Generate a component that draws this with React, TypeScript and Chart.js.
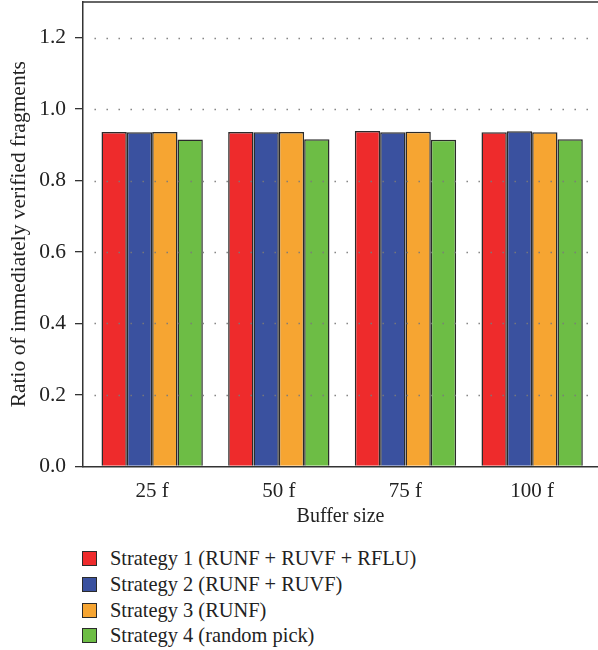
import React, { useEffect, useRef } from "react";
import { Chart, registerables } from "chart.js";

Chart.register(...registerables);

const categories = ["25 f", "50 f", "75 f", "100 f"];
const seriesNames = [
  "Strategy 1 (RUNF + RUVF + RFLU)",
  "Strategy 2 (RUNF + RUVF)",
  "Strategy 3 (RUNF)",
  "Strategy 4 (random pick)",
];
const strategy1 = [0.936, 0.936, 0.939, 0.935];
const strategy2 = [0.935, 0.935, 0.935, 0.938];
const strategy3 = [0.936, 0.936, 0.937, 0.935];
const strategy4 = [0.915, 0.916, 0.914, 0.916];
const seriesColors = ["#EE2B2C", "#3A519F", "#F6A532", "#6DBD45"];
const yTicks = [0, 0.2, 0.4, 0.6, 0.8, 1.0, 1.2];

const FONT = "'Liberation Serif', 'Times New Roman', serif";

const overlayPlugin = {
  id: "overlayGrid",
  afterDatasetsDraw(chart: any) {
    const { ctx, chartArea, scales } = chart;
    const { left, right, top } = chartArea;
    const y = scales.y;
    ctx.save();
    ctx.strokeStyle = "#7a7a7a";
    ctx.lineWidth = 1.4;
    ctx.setLineDash([1.4, 10.6]);
    for (const v of yTicks) {
      if (v === 0) continue;
      const py = Math.round(y.getPixelForValue(v)) + 0.5;
      ctx.beginPath();
      ctx.moveTo(left + 11.5, py);
      ctx.lineTo(right, py);
      ctx.stroke();
    }
    ctx.setLineDash([]);
    ctx.strokeStyle = "#333";
    ctx.lineWidth = 1.5;
    ctx.beginPath();
    ctx.moveTo(left, top);
    ctx.lineTo(right, top);
    ctx.stroke();
    ctx.restore();
  },
};

export default function App() {
  const ref = useRef<HTMLCanvasElement | null>(null);
  useEffect(() => {
    if (!ref.current) return;
    const all = [strategy1, strategy2, strategy3, strategy4];
    const chart = new Chart(ref.current, {
      type: "bar",
      data: {
        datasets: all.map((vals, i) => ({
          label: seriesNames[i],
          data: vals.map((v, j) => ({ x: j + 1, y: v })),
          backgroundColor: seriesColors[i],
          borderColor: "#2b2b2b",
          borderWidth: 1.5,
          categoryPercentage: 0.8,
          barPercentage: 1.0,
        })),
      },
      options: {
        animation: false,
        responsive: false,
        maintainAspectRatio: false,
        layout: { padding: { top: 2, right: 0, left: 0, bottom: 0 } },
        plugins: { legend: { display: false }, tooltip: { enabled: false } },
        scales: {
          x: {
            type: "linear",
            min: 0.454,
            max: 4.52,
            offset: false,
            afterBuildTicks: (axis: any) => {
              axis.ticks = categories.map((_, i) => ({ value: i + 1 }));
            },
            afterFit: (axis: any) => {
              axis.height = 540 - 466.3;
              axis.paddingLeft = 0;
              axis.paddingRight = 0;
            },
            ticks: {
              callback: (v: any) => categories[Number(v) - 1] ?? "",
              font: { family: FONT, size: 21 },
              color: "#222",
              padding: 13,
              maxRotation: 0,
              autoSkip: false,
            },
            grid: { display: false, drawOnChartArea: false, drawTicks: false, offset: false },
            border: { display: true, color: "#333", width: 1.5 },
            title: {
              display: true,
              text: "Buffer size",
              font: { family: FONT, size: 20 },
              color: "#222",
              padding: { top: 0, bottom: 11 },
            },
          },
          y: {
            min: 0,
            max: 1.3,
            afterBuildTicks: (axis: any) => {
              axis.ticks = yTicks.map((v) => ({ value: v }));
            },
            afterFit: (axis: any) => {
              axis.width = 83;
              axis.paddingTop = 0;
              axis.paddingBottom = 0;
            },
            ticks: {
              callback: (v: any) => Number(v).toFixed(1),
              font: { family: FONT, size: 21.5 },
              color: "#222",
              padding: 9,
            },
            grid: {
              display: true,
              drawOnChartArea: false,
              drawTicks: true,
              tickLength: 8,
              color: "#333",
              lineWidth: 1.3,
            },
            border: { display: true, color: "#333", width: 1.5 },
            title: {
              display: true,
              text: "Ratio of immediately verified fragments",
              font: { family: FONT, size: 21.5 },
              color: "#222",
              padding: { top: 6, bottom: 0 },
            },
          },
        },
      },
      plugins: [overlayPlugin],
    });
    return () => chart.destroy();
  }, []);

  return (
    <div
      style={{
        position: "absolute",
        left: 0,
        top: 0,
        width: 598,
        height: 650,
        overflow: "hidden",
        background: "#fff",
      }}
    >
      <canvas ref={ref} width={598} height={540} style={{ display: "block" }} />
      <div style={{ position: "absolute", left: 82, top: 546 }}>
        {seriesNames.map((name, i) => (
          <div
            key={name}
            style={{
              display: "flex",
              alignItems: "center",
              height: 25.7,
              fontFamily: FONT,
              fontSize: 20.4,
              color: "#222",
              whiteSpace: "nowrap",
            }}
          >
            <span
              style={{
                display: "inline-block",
                width: 13,
                height: 13,
                background: seriesColors[i],
                border: "1.5px solid #2b2b2b",
                marginRight: 13,
              }}
            />
            <span>{name}</span>
          </div>
        ))}
      </div>
    </div>
  );
}
